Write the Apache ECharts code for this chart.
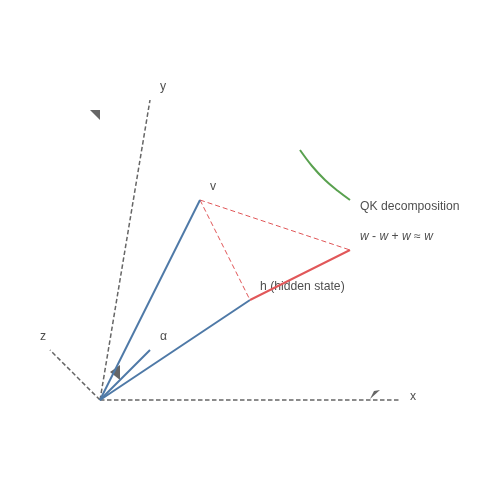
<!DOCTYPE html>
<html>
<head>
<meta charset="utf-8">
<style>
html,body{margin:0;padding:0;background:#fff;}
#chart{width:500px;height:500px;}
</style>
<script src="https://cdn.jsdelivr.net/npm/echarts@6/dist/echarts.min.js"></script>
</head>
<body>
<div id="chart"></div>
<script>
// 坐标轴 (虚线)
var axisX=[[100,400],[400,400]];
var axisY=[[100,400],[150,100]];
var axisZ=[[100,400],[50,350]];
// 向量
var vecV=[[100,400],[200,200]];
var vecH=[[100,400],[250,300]];
var vecA=[[100,400],[150,350]];
var vecW=[[250,300],[350,250]];
var dashVH=[[200,200],[250,300]];
var dashVW=[[200,200],[350,250]];
var curveQK=[[300,150],[312,166],[325,180],[338,191],[350,200]];
// 箭头
var arrowX=[[370,399],[380,390],[374,391]];
var arrowY=[[90,110],[100,110],[100,120]];
var arrowZ=[[110,372],[120,365],[120,380]];
// 文字
var labels=[
    ['x',410,397],
    ['y',160,87],
    ['z',40,337],
    ['v',210,187],
    ['\u03b1',160,337],
    ['h (hidden state)',260,287],
    ['QK decomposition',360,207],
    ['{i|w} - {i|w} + {i|w} \u2248 {i|w}',360,237]
];

function lineSeries(data,color,width,dash,smooth){
    return {
        type:'line',
        data:data,
        symbol:'none',
        smooth:smooth?0.4:false,
        silent:true,
        animation:false,
        lineStyle:{color:color,width:width,type:dash?dash:'solid',cap:'butt'}
    };
}
function arrowSeries(data){
    return {
        type:'custom',
        silent:true,
        animation:false,
        data:[0],
        clip:false,
        renderItem:function(params,api){
            var pts=data.map(function(p){return api.coord(p);});
            return {type:'polygon',shape:{points:pts},style:{fill:'#666666'}};
        }
    };
}

var chart=echarts.init(document.getElementById('chart'),null,{renderer:'canvas'});
var series=[
    lineSeries(axisX,'#666666',1.5,[4.5,2.5]),
    lineSeries(axisY,'#666666',1.5,[4.5,2.5]),
    lineSeries(axisZ,'#666666',1.5,[4.5,2.5]),
    lineSeries(dashVH,'#e15759',1,[5,3]),
    lineSeries(dashVW,'#e15759',1,[5,3]),
    lineSeries(vecV,'#4e79a7',2),
    lineSeries(vecH,'#4e79a7',2),
    lineSeries(vecA,'#4e79a7',2),
    lineSeries(vecW,'#e15759',2),
    lineSeries(curveQK,'#59a14f',2,null,true),
    arrowSeries(arrowX),
    arrowSeries(arrowY),
    arrowSeries(arrowZ),
    {
        type:'scatter',
        symbolSize:0,
        silent:true,
        animation:false,
        data:labels.map(function(l){return {value:[l[1],l[2]],name:l[0]};}),
        label:{
            show:true,
            position:[0,0],
            align:'left',
            verticalAlign:'middle',
            color:'#222222',
            fontSize:12.2,
            fontFamily:'"Liberation Sans", Arial, sans-serif',
            formatter:function(p){return p.name;},
            rich:{i:{fontStyle:'italic',fontSize:12,color:'#222222',fontFamily:'"Liberation Sans", Arial, sans-serif'}}
        }
    }
];
chart.setOption({
    backgroundColor:'#ffffff',
    animation:false,
    grid:{left:0,right:0,top:0,bottom:0},
    xAxis:{type:'value',min:0,max:500,show:false},
    yAxis:{type:'value',min:0,max:500,inverse:true,show:false},
    series:series
});
</script>
</body>
</html>
